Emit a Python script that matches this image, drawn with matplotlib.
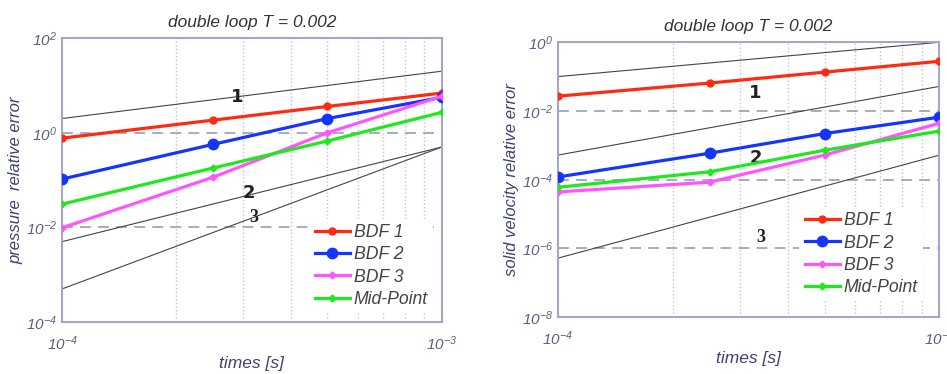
import matplotlib
matplotlib.use("Agg")
import matplotlib.pyplot as plt
from matplotlib.ticker import LogLocator, NullFormatter, NullLocator, FixedLocator

plt.rc('font', family=['Liberation Sans', 'DejaVu Sans'], style='italic')

# Time steps (s)
times = [1e-4, 2.5e-4, 5e-4, 1e-3]
ref_times = [1e-4, 1e-3]

# Pressure relative error
p_bdf1 = [0.77, 1.85, 3.6, 6.9]
p_bdf2 = [0.105, 0.57, 2.0, 5.6]
p_bdf3 = [0.0098, 0.115, 1.0, 5.9]
p_mid = [0.031, 0.18, 0.67, 2.7]
# reference slopes 1, 2, 3 (values at 1e-4 and 1e-3)
p_ref1 = [2.0, 20.0]
p_ref2 = [0.005, 0.5]
p_ref3 = [5e-4, 0.5]

# Solid velocity relative error
v_bdf1 = [0.027, 0.065, 0.135, 0.28]
v_bdf2 = [1.2e-4, 5.9e-4, 2.2e-3, 6.6e-3]
v_bdf3 = [4.4e-5, 8.5e-5, 5.2e-4, 4.4e-3]
v_mid = [6e-5, 1.7e-4, 7.2e-4, 2.6e-3]
v_ref1 = [0.1, 1.0]
v_ref2 = [5.2e-4, 5.2e-2]
v_ref3 = [5.2e-7, 5.2e-4]

names = ["BDF 1", "BDF 2", "BDF 3", "Mid-Point"]

SPINE = '#a4a8c6'
TICKC = '#5a5e86'
LABC = '#3e4272'


def draw_panel(ax, series, refs, ylim, yticks, ylabel, ref_pos, leg_anchor):
    # reference order lines
    for r in refs:
        ax.plot(ref_times, r, color='#444444', lw=0.8, zorder=2)

    styles = [
        dict(color='#ff2a10', marker='o', ms=5),
        dict(color='#1535ff', marker='o', ms=7.5),
        dict(color='#ff55ff', marker='D', ms=3.5),
        dict(color='#1ee81e', marker='D', ms=3.5),
    ]
    for y, st, name in zip(series, styles, names):
        ax.plot(times, y, lw=2.3, label=name, zorder=4, **st)

    for lab, (tx, ty) in zip(["1", "2", "3"], ref_pos):
        fam = 'Liberation Serif' if lab == "3" else 'DejaVu Sans'
        ax.text(tx, ty, lab, fontsize=13, fontweight='bold', style='normal',
                family=fam, color='#222222', ha='center', va='center', zorder=3)

    ax.set_xscale('log')
    ax.set_yscale('log')
    ax.set_xlim(1e-4, 1e-3)
    ax.set_ylim(*ylim)
    ax.xaxis.set_major_locator(FixedLocator([1e-4, 1e-3]))
    ax.xaxis.set_minor_locator(LogLocator(base=10, subs=range(2, 10)))
    ax.xaxis.set_minor_formatter(NullFormatter())
    ax.yaxis.set_major_locator(FixedLocator(yticks))
    ax.yaxis.set_minor_locator(NullLocator())

    ax.grid(True, which='minor', axis='x', ls=':', color='#c0c4d8', lw=1.0)
    ax.grid(True, which='major', axis='y', ls=(0, (6, 4)), color='#a0a4bc', lw=1.3)

    for s in ax.spines.values():
        s.set_color(SPINE)
        s.set_linewidth(1.5)
    ax.tick_params(which='both', direction='in', color=SPINE, labelcolor=TICKC,
                   labelsize=11)
    ax.tick_params(axis='x', which='minor', length=0)
    ax.tick_params(axis='x', which='major', pad=9)

    ax.set_title("double loop T = 0.002", fontsize=12.5, color='#333333', pad=8)
    ax.set_xlabel("times [s]", fontsize=12.5, color=LABC, labelpad=2)
    ax.set_ylabel(ylabel, fontsize=12, color=LABC, labelpad=2)

    leg = ax.legend(loc='lower right', bbox_to_anchor=leg_anchor, fontsize=12.7,
                    frameon=True, fancybox=False, edgecolor='none',
                    facecolor='white', framealpha=1, handlelength=2.0,
                    handletextpad=0.2, labelspacing=0.3, borderpad=0.3)
    for t in leg.get_texts():
        t.set_color('#444444')


fig = plt.figure(figsize=(9.47, 3.74), dpi=100)
ax1 = fig.add_axes([0.0655, 0.139, 0.401, 0.759])
ax2 = fig.add_axes([0.589, 0.152, 0.403, 0.735])

draw_panel(ax1, [p_bdf1, p_bdf2, p_bdf3, p_mid], [p_ref1, p_ref2, p_ref3],
           (1e-4, 1e2), [1e-4, 1e-2, 1e0, 1e2], "pressure  relative error",
           [(2.9e-4, 5.6), (3.1e-4, 0.053), (3.2e-4, 0.016)], (1.0, 0.0))
draw_panel(ax2, [v_bdf1, v_bdf2, v_bdf3, v_mid], [v_ref1, v_ref2, v_ref3],
           (1e-8, 1e0), [1e-8, 1e-6, 1e-4, 1e-2, 1e0],
           "solid velocity relative error",
           [(3.3e-4, 0.033), (3.3e-4, 4.3e-4), (3.4e-4, 2.1e-6)], (0.98, 0.025))

fig.savefig("out.png", dpi=100)
